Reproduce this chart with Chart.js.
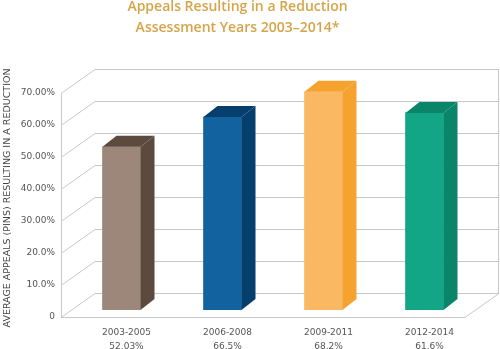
<!DOCTYPE html>
<html>
<head>
<meta charset="utf-8">
<script src="https://cdn.jsdelivr.net/npm/chart.js@4/dist/chart.umd.min.js"></script>
<style>
  html, body { margin: 0; padding: 0; background: #fff; }
  #wrap { width: 500px; height: 349px; }
</style>
</head>
<body>
<div id="wrap"><canvas id="appealsChart" width="500" height="349"></canvas></div>
<script>
// Chart data
const categories = ['2003-2005', '2006-2008', '2009-2011', '2012-2014'];
const valueLabels = ['52.03%', '66.5%', '68.2%', '61.6%'];
const barHeights = [51, 60.3, 68.2, 61.6];
const tickLabels = ['0', '10.0%', '20.0%', '30.00%', '40.00%', '50.00%', '60.00%', '70.00%'];

// Bar colours: front face, side/top face
const frontColors = ['#9c877a', '#11629e', '#fbb862', '#12a586'];
const sideColors = ['#5c4a3f', '#053f6d', '#f5a22f', '#0a8569'];

// Offsets for the fake 3D box (relative to the bar plane)
const FRONT = { x: -10, y: 7 };
const BACK = { x: 24, y: -17 };
const DEPTH = { x: 14, y: -11 };

const box3d = {
    id: 'box3d',
    beforeDatasetsDraw(chart) {
        const { ctx, chartArea: a, scales: { y } } = chart;
        const y0 = y.getPixelForValue(0);
        const yTop = y.getPixelForValue(70);
        ctx.save();
        ctx.strokeStyle = '#c8c8c8';
        ctx.lineWidth = 1;
        ctx.beginPath();
        y.ticks.forEach(t => {
            const py = Math.round(y.getPixelForValue(t.value)) + 0.5;
            ctx.moveTo(a.left + FRONT.x, py + FRONT.y);
            ctx.lineTo(a.left + BACK.x, py + BACK.y);
            ctx.lineTo(a.right + BACK.x, py + BACK.y);
        });
        // front left edge
        ctx.moveTo(a.left + FRONT.x + 0.5, y0 + FRONT.y);
        ctx.lineTo(a.left + FRONT.x + 0.5, yTop + FRONT.y);
        // back right edge
        ctx.moveTo(a.right + BACK.x - 0.5, yTop + BACK.y);
        ctx.lineTo(a.right + BACK.x - 0.5, y0 + BACK.y);
        // floor
        const fy = Math.round(y0) + 0.5;
        ctx.moveTo(a.left + FRONT.x, fy + FRONT.y);
        ctx.lineTo(a.right + FRONT.x, fy + FRONT.y);
        ctx.lineTo(a.right + BACK.x, fy + BACK.y);
        ctx.stroke();
        ctx.restore();
    },
    afterDatasetsDraw(chart) {
        const { ctx } = chart;
        const meta = chart.getDatasetMeta(0);
        ctx.save();
        meta.data.forEach((bar, i) => {
            const { x, y: top, base, width } = bar.getProps(['x', 'y', 'base', 'width'], true);
            const x0 = x - width / 2;
            const x1 = x + width / 2;
            ctx.fillStyle = sideColors[i];
            // side face
            ctx.beginPath();
            ctx.moveTo(x1, top);
            ctx.lineTo(x1 + DEPTH.x, top + DEPTH.y);
            ctx.lineTo(x1 + DEPTH.x, base + DEPTH.y);
            ctx.lineTo(x1, base);
            ctx.closePath();
            ctx.fill();
            // top face
            ctx.beginPath();
            ctx.moveTo(x0, top);
            ctx.lineTo(x0 + DEPTH.x, top + DEPTH.y);
            ctx.lineTo(x1 + DEPTH.x, top + DEPTH.y);
            ctx.lineTo(x1, top);
            ctx.closePath();
            ctx.fill();
        });
        ctx.restore();
    }
};

const ctx = document.getElementById('appealsChart').getContext('2d');
const appealsChart = new Chart(ctx, {
    type: 'bar',
    data: {
        labels: categories.map((c, i) => [c, valueLabels[i]]),
        datasets: [{
            data: barHeights,
            backgroundColor: frontColors,
            barThickness: 38,
            borderWidth: 0
        }]
    },
    options: {
        responsive: false,
        animation: false,
        layout: { padding: { left: 0, right: 25, top: 0, bottom: 0 } },
        plugins: {
            legend: { display: false },
            tooltip: { enabled: false },
            title: {
                display: true,
                text: ['Appeals Resulting in a Reduction', 'Assessment Years 2003\u20132014*'],
                color: '#d6a449',
                font: { family: '"Open Sans"', size: 14, weight: '600', lineHeight: 1.5 },
                padding: { top: -3, bottom: 47 }
            }
        },
        scales: {
            x: {
                grid: { display: false },
                border: { display: false },
                ticks: {
                    color: '#555',
                    font: { family: '"DejaVu Sans"', size: 9, lineHeight: 1.5 },
                    padding: 8,
                    labelOffset: 5,
                    maxRotation: 0
                },
                afterFit(scale) { scale.height = 39; }
            },
            y: {
                min: 0,
                max: 70,
                grid: { display: false, drawTicks: false },
                border: { display: false },
                ticks: {
                    stepSize: 10,
                    color: '#555',
                    font: { family: '"DejaVu Sans"', size: 9 },
                    padding: 16,
                    labelOffset: 7,
                    callback: (v, i) => tickLabels[i]
                },
                title: {
                    display: true,
                    text: 'AVERAGE APPEALS (PINS) RESULTING IN A REDUCTION',
                    color: '#444',
                    font: { family: '"DejaVu Sans"', size: 9.5 },
                    padding: { top: 2, bottom: 0 }
                },
                afterFit(scale) { scale.width = 71; }
            }
        }
    },
    plugins: [box3d]
});
</script>
</body>
</html>
